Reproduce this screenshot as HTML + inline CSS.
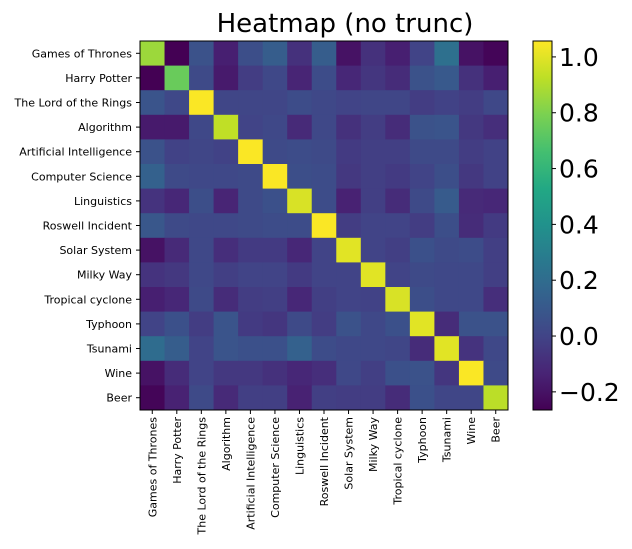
<!DOCTYPE html>
<html><head><meta charset="utf-8">
<style>
html,body{margin:0;padding:0;background:#fff;}
svg{display:block;font-family:"DejaVu Sans","Liberation Sans",sans-serif;}
</style></head>
<body>
<svg id="chart" width="632" height="549" xmlns="http://www.w3.org/2000/svg">
<text x="345" y="32" font-size="26" text-anchor="middle">Heatmap (no trunc)</text>
<defs><linearGradient id="cbg" x1="0" y1="1" x2="0" y2="0"></linearGradient></defs>
<g id="cells"></g>
<g id="axes"></g>
<g id="cbar"></g>
</svg>
<script>
const categories = ["Games of Thrones","Harry Potter","The Lord of the Rings","Algorithm","Artificial Intelligence","Computer Science","Linguistics","Roswell Incident","Solar System","Milky Way","Tropical cyclone","Typhoon","Tsunami","Wine","Beer"];
const row0 = [0.86,-0.265,0.07,-0.15,0.05,0.12,-0.08,0.12,-0.2,-0.08,-0.15,0.0,0.22,-0.2,-0.25];
const row1 = [-0.265,0.75,0.03,-0.17,-0.03,0.02,-0.13,0.04,-0.12,-0.06,-0.1,0.07,0.1,-0.08,-0.15];
const row2 = [0.08,0.02,1.05,0.01,0.01,0.01,0.04,0.02,0.0,0.01,0.01,-0.03,-0.01,-0.03,0.02];
const row3 = [-0.17,-0.17,0.02,0.93,0.0,0.02,-0.11,0.02,-0.08,-0.03,-0.1,0.07,0.08,-0.05,-0.09];
const row4 = [0.07,-0.01,0.01,-0.01,1.05,0.03,0.04,0.03,-0.04,-0.02,-0.02,0.03,0.03,-0.03,-0.01];
const row5 = [0.14,0.03,0.02,0.02,0.03,1.05,0.05,0.04,-0.05,-0.02,-0.04,0.0,0.05,-0.05,-0.01];
const row6 = [-0.07,-0.12,0.05,-0.13,0.03,0.06,0.98,0.04,-0.14,-0.02,-0.1,0.03,0.11,-0.11,-0.12];
const row7 = [0.09,0.03,0.02,0.02,0.03,0.04,0.04,1.05,-0.03,0.0,0.0,-0.03,0.05,-0.1,-0.04];
const row8 = [-0.2,-0.11,0.02,-0.09,-0.04,-0.04,-0.12,0.0,1.0,0.0,-0.02,0.06,0.03,0.04,-0.02];
const row9 = [-0.07,-0.05,0.02,-0.02,0.0,0.0,-0.04,0.0,0.0,1.0,0.0,0.03,0.02,0.02,-0.02];
const row10 = [-0.15,-0.12,0.03,-0.1,-0.03,-0.02,-0.12,-0.02,0.0,-0.01,0.98,0.05,0.02,0.02,-0.09];
const row11 = [0.0,0.06,-0.03,0.08,-0.04,-0.06,0.03,-0.03,0.07,0.02,0.06,1.0,-0.1,0.07,0.07];
const row12 = [0.2,0.12,0.0,0.08,0.06,0.06,0.14,0.04,0.02,0.02,0.01,-0.1,1.0,-0.07,0.02];
const row13 = [-0.2,-0.1,0.0,-0.05,-0.05,-0.08,-0.12,-0.09,0.02,-0.02,0.06,0.07,-0.06,1.05,0.03];
const row14 = [-0.25,-0.14,0.03,-0.11,-0.02,-0.02,-0.14,-0.02,-0.03,-0.03,-0.1,0.06,0.01,0.01,0.92];
const values = [row0,row1,row2,row3,row4,row5,row6,row7,row8,row9,row10,row11,row12,row13,row14];
const cbTicks = [-0.2,0.0,0.2,0.4,0.6,0.8,1.0];
const cbTickLabels = ["−0.2","0.0","0.2","0.4","0.6","0.8","1.0"];
const vmin = -0.265, vmax = 1.057;

const VIR = ["#440154","#482475","#414487","#355f8d","#2a788e","#21918c","#22a884","#44bf70","#7ad151","#bddf26","#fde725"];
function hex(c){return [1,3,5].map(i=>parseInt(c.substr(i,2),16));}
function viridis(t){t=Math.max(0,Math.min(1,t));const s=t*10,i=Math.min(9,Math.floor(s)),f=s-i;
 const a=hex(VIR[i]),b=hex(VIR[i+1]);return "rgb("+a.map((v,k)=>Math.round(v+(b[k]-v)*f)).join(",")+")";}
const L=140,T=41,W=368,H=369,n=categories.length,cw=W/n,ch=H/n;
const xs=i=>L+i*cw, ys=j=>T+j*ch;
const NS="http://www.w3.org/2000/svg";
function mk(tag,attrs,parent){const e=document.createElementNS(NS,tag);for(const k in attrs)e.setAttribute(k,attrs[k]);parent.appendChild(e);return e;}
const cells=document.getElementById('cells'),axes=document.getElementById('axes'),cbar=document.getElementById('cbar');
values.forEach((row,j)=>row.forEach((v,i)=>{
 const r=mk('rect',{x:xs(i),y:ys(j),width:cw+0.5,height:ch+0.5,fill:viridis((v-vmin)/(vmax-vmin))},cells);
 
 
}));
mk('rect',{x:L,y:T,width:W,height:H,fill:'none',stroke:'#000','stroke-width':1},axes);
categories.forEach((c,k)=>{
 const cy=ys(k)+ch/2, cx=xs(k)+cw/2;
 mk('line',{x1:L-4,x2:L,y1:cy,y2:cy,stroke:'#000'},axes);
 const t=mk('text',{x:L-8,y:cy+4,'font-size':11,'text-anchor':'end'},axes);t.textContent=c;
 
 
 mk('line',{x1:cx,x2:cx,y1:T+H,y2:T+H+4,stroke:'#000'},axes);
 const u=mk('text',{x:0,y:0,'font-size':11,'text-anchor':'end',transform:`translate(${cx+4},${T+H+7}) rotate(-90)`},axes);u.textContent=c;
 
 
});
const CL=533,CW=19;
const g=document.getElementById('cbg');
for(let k=0;k<=20;k++)mk('stop',{offset:k/20,'stop-color':viridis(k/20)},g);
mk('rect',{x:CL,y:T,width:CW,height:H,fill:'url(#cbg)',stroke:'#000','stroke-width':1},cbar);
const cy=v=>T+H-(v-vmin)/(vmax-vmin)*H;
cbTicks.forEach((v,k)=>{
 mk('line',{x1:CL+CW,x2:CL+CW+4,y1:cy(v),y2:cy(v),stroke:'#000'},cbar);
 const t=mk('text',{x:CL+CW+7,y:cy(v)+9,'font-size':25},cbar);t.textContent=cbTickLabels[k];
 
 
});
</script>
</body></html>
